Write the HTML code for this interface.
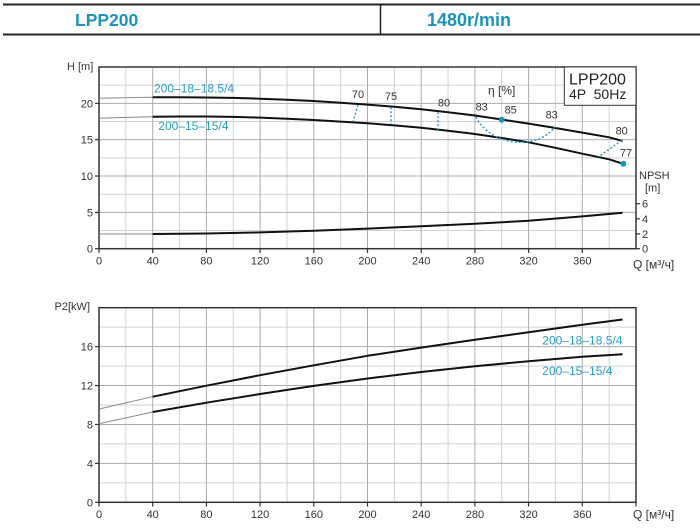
<!DOCTYPE html>
<html>
<head>
<meta charset="utf-8">
<style>
html,body{margin:0;padding:0;background:#fff;}
svg{display:block;}
text{font-family:"Liberation Sans",Arial,sans-serif;}
</style>
</head>
<body>
<svg width="700" height="530" viewBox="0 0 700 530" xmlns="http://www.w3.org/2000/svg">
<rect width="700" height="530" fill="#fff"/>
<!-- Header -->
<line x1="3" y1="4.5" x2="700" y2="4.5" stroke="#222" stroke-width="2"/>
<line x1="3" y1="34.5" x2="700" y2="34.5" stroke="#222" stroke-width="2"/>
<line x1="380.5" y1="4" x2="380.5" y2="35" stroke="#222" stroke-width="1.5"/>
<text x="75" y="26" font-size="17.5" font-weight="bold" fill="#1a94b8">LPP200</text>
<text x="427" y="26" font-size="18" font-weight="bold" fill="#1a94b8">1480r/min</text>

<!-- TOP CHART grid -->
<g stroke-width="1">
<g stroke="#d2d2d2">
<line x1="125.85" y1="67" x2="125.85" y2="248.7"/>
<line x1="179.55" y1="67" x2="179.55" y2="248.7"/>
<line x1="233.25" y1="67" x2="233.25" y2="248.7"/>
<line x1="286.95" y1="67" x2="286.95" y2="248.7"/>
<line x1="340.65" y1="67" x2="340.65" y2="248.7"/>
<line x1="394.35" y1="67" x2="394.35" y2="248.7"/>
<line x1="448.05" y1="67" x2="448.05" y2="248.7"/>
<line x1="501.75" y1="67" x2="501.75" y2="248.7"/>
<line x1="555.45" y1="67" x2="555.45" y2="248.7"/>
<line x1="609.15" y1="67" x2="609.15" y2="248.7"/>
<line x1="99" y1="230.53" x2="636" y2="230.53"/>
<line x1="99" y1="194.19" x2="636" y2="194.19"/>
<line x1="99" y1="157.85" x2="636" y2="157.85"/>
<line x1="99" y1="121.51" x2="636" y2="121.51"/>
<line x1="99" y1="85.17" x2="636" y2="85.17"/>
</g>
<g stroke="#ababab">
<line x1="152.7" y1="67" x2="152.7" y2="248.7"/>
<line x1="206.4" y1="67" x2="206.4" y2="248.7"/>
<line x1="260.1" y1="67" x2="260.1" y2="248.7"/>
<line x1="313.8" y1="67" x2="313.8" y2="248.7"/>
<line x1="367.5" y1="67" x2="367.5" y2="248.7"/>
<line x1="421.2" y1="67" x2="421.2" y2="248.7"/>
<line x1="474.9" y1="67" x2="474.9" y2="248.7"/>
<line x1="528.6" y1="67" x2="528.6" y2="248.7"/>
<line x1="582.3" y1="67" x2="582.3" y2="248.7"/>
<line x1="99" y1="212.36" x2="636" y2="212.36"/>
<line x1="99" y1="176.02" x2="636" y2="176.02"/>
<line x1="99" y1="139.68" x2="636" y2="139.68"/>
<line x1="99" y1="103.34" x2="636" y2="103.34"/>
</g>
</g>
<!-- top chart box -->
<rect x="99" y="67" width="537" height="181.7" fill="none" stroke="#333" stroke-width="1.5"/>
<!-- ticks -->
<g stroke="#333" stroke-width="1.2">
<line x1="95" y1="248.7" x2="99" y2="248.7"/>
<line x1="95" y1="212.36" x2="99" y2="212.36"/>
<line x1="95" y1="176.02" x2="99" y2="176.02"/>
<line x1="95" y1="139.68" x2="99" y2="139.68"/>
<line x1="95" y1="103.34" x2="99" y2="103.34"/>
<line x1="99" y1="248.7" x2="99" y2="253"/>
<line x1="152.7" y1="248.7" x2="152.7" y2="253"/>
<line x1="206.4" y1="248.7" x2="206.4" y2="253"/>
<line x1="260.1" y1="248.7" x2="260.1" y2="253"/>
<line x1="313.8" y1="248.7" x2="313.8" y2="253"/>
<line x1="367.5" y1="248.7" x2="367.5" y2="253"/>
<line x1="421.2" y1="248.7" x2="421.2" y2="253"/>
<line x1="474.9" y1="248.7" x2="474.9" y2="253"/>
<line x1="528.6" y1="248.7" x2="528.6" y2="253"/>
<line x1="582.3" y1="248.7" x2="582.3" y2="253"/>
<line x1="636" y1="248.7" x2="640" y2="248.7"/>
<line x1="636" y1="233.9" x2="640" y2="233.9"/>
<line x1="636" y1="218.8" x2="640" y2="218.8"/>
<line x1="636" y1="203.7" x2="640" y2="203.7"/>
</g>
<g font-size="11" fill="#333">
<g text-anchor="end">
<text x="93" y="252.7">0</text>
<text x="93" y="216.4">5</text>
<text x="93" y="180">10</text>
<text x="93" y="143.7">15</text>
<text x="93" y="107.3">20</text>
</g>
<g text-anchor="middle">
<text x="99" y="264.5">0</text>
<text x="152.7" y="264.5">40</text>
<text x="206.4" y="264.5">80</text>
<text x="260.1" y="264.5">120</text>
<text x="313.8" y="264.5">160</text>
<text x="367.5" y="264.5">200</text>
<text x="421.2" y="264.5">240</text>
<text x="474.9" y="264.5">280</text>
<text x="528.6" y="264.5">320</text>
<text x="582.3" y="264.5">360</text>
</g>
<text x="642" y="252.7">0</text>
<text x="642" y="237.9">2</text>
<text x="642" y="222.8">4</text>
<text x="642" y="207.7">6</text>
<text x="639" y="179">NPSH</text>
<text x="645" y="191.7">[m]</text>
<text x="67" y="70">H [m]</text>
</g>
<text x="633" y="268.5" font-size="12" fill="#333">Q [м³/ч]</text>

<!-- top chart curves: thin extensions -->
<g fill="none" stroke="#888" stroke-width="1">
<polyline points="99,98.3 125.85,97.7 152.7,97.3"/>
<polyline points="99,118.3 125.85,117.4 152.7,116.7"/>
<polyline points="99,234 152.7,234"/>
</g>
<g fill="none" stroke="#111" stroke-width="2" stroke-linejoin="round">
<polyline points="152.7,97.3 179.55,97.3 206.4,97.5 233.25,97.9 260.1,98.7 286.95,99.7 313.8,101 340.65,102.7 367.5,104.6 394.35,106.8 421.2,109.2 448.05,112.2 474.9,115.5 501.75,119.5 528.6,123.6 555.45,128 582.3,132.6 609.15,137.3 622.6,141"/>
<polyline points="152.7,116.7 179.55,116.5 206.4,116.5 233.25,116.9 260.1,117.6 286.95,118.7 313.8,120 340.65,121.6 367.5,123.3 394.35,125.4 421.2,127.7 448.05,130.7 474.9,134 501.75,138 528.6,142.3 555.45,147.8 582.3,153.7 609.15,159.3 622.6,163.7"/>
<polyline points="152.7,234 206.4,233.5 260.1,232.4 313.8,230.8 367.5,228.6 421.2,226.3 474.9,223.8 528.6,220.7 582.3,216.4 622.6,212.7"/>
</g>
<!-- efficiency dotted lines -->
<g fill="none" stroke="#2aa0c8" stroke-width="1.5" stroke-dasharray="2,2">
<line x1="358" y1="105" x2="353" y2="121.7"/>
<line x1="391" y1="107.3" x2="391" y2="124.3"/>
<line x1="438" y1="112.3" x2="438" y2="130"/>
<path d="M476,117 C490,145 535,152 555,127"/>
<line x1="621.7" y1="140.3" x2="598.3" y2="157"/>
</g>
<circle cx="501.7" cy="119.7" r="3" fill="#1a94b8"/>
<circle cx="623.3" cy="163.7" r="3" fill="#1a94b8"/>
<g font-size="11" fill="#333" text-anchor="middle">
<text x="358" y="98">70</text>
<text x="391" y="100">75</text>
<text x="444" y="106.7">80</text>
<text x="481.7" y="110.7">83</text>
<text x="510.7" y="113.7">85</text>
<text x="551.7" y="118.7">83</text>
<text x="621.7" y="134.3">80</text>
<text x="626" y="156.3">77</text>
</g>
<text x="488" y="94.7" font-size="12" fill="#333">η [%]</text>
<!-- legend box -->
<rect x="564.3" y="67" width="71.7" height="38.3" fill="#fff" stroke="#333" stroke-width="1"/>
<text x="569" y="84.7" font-size="16" fill="#222">LPP200</text>
<text x="569" y="99" font-size="14" fill="#222" xml:space="preserve">4P  50Hz</text>
<!-- series labels top -->
<g font-size="12" fill="#2a9cc4">
<text x="154" y="92.3">200–18–18.5/4</text>
<text x="158.3" y="130">200–15–15/4</text>
</g>

<!-- BOTTOM CHART grid -->
<g stroke-width="1">
<g stroke="#d2d2d2">
<line x1="125.85" y1="307.7" x2="125.85" y2="502.3"/>
<line x1="179.55" y1="307.7" x2="179.55" y2="502.3"/>
<line x1="233.25" y1="307.7" x2="233.25" y2="502.3"/>
<line x1="286.95" y1="307.7" x2="286.95" y2="502.3"/>
<line x1="340.65" y1="307.7" x2="340.65" y2="502.3"/>
<line x1="394.35" y1="307.7" x2="394.35" y2="502.3"/>
<line x1="448.05" y1="307.7" x2="448.05" y2="502.3"/>
<line x1="501.75" y1="307.7" x2="501.75" y2="502.3"/>
<line x1="555.45" y1="307.7" x2="555.45" y2="502.3"/>
<line x1="609.15" y1="307.7" x2="609.15" y2="502.3"/>
<line x1="99" y1="482.84" x2="636" y2="482.84"/>
<line x1="99" y1="443.92" x2="636" y2="443.92"/>
<line x1="99" y1="405" x2="636" y2="405"/>
<line x1="99" y1="366.08" x2="636" y2="366.08"/>
<line x1="99" y1="327.16" x2="636" y2="327.16"/>
</g>
<g stroke="#ababab">
<line x1="152.7" y1="307.7" x2="152.7" y2="502.3"/>
<line x1="206.4" y1="307.7" x2="206.4" y2="502.3"/>
<line x1="260.1" y1="307.7" x2="260.1" y2="502.3"/>
<line x1="313.8" y1="307.7" x2="313.8" y2="502.3"/>
<line x1="367.5" y1="307.7" x2="367.5" y2="502.3"/>
<line x1="421.2" y1="307.7" x2="421.2" y2="502.3"/>
<line x1="474.9" y1="307.7" x2="474.9" y2="502.3"/>
<line x1="528.6" y1="307.7" x2="528.6" y2="502.3"/>
<line x1="582.3" y1="307.7" x2="582.3" y2="502.3"/>
<line x1="99" y1="463.38" x2="636" y2="463.38"/>
<line x1="99" y1="424.46" x2="636" y2="424.46"/>
<line x1="99" y1="385.54" x2="636" y2="385.54"/>
<line x1="99" y1="346.62" x2="636" y2="346.62"/>
</g>
</g>
<rect x="99" y="307.7" width="537" height="194.6" fill="none" stroke="#333" stroke-width="1.5"/>
<g stroke="#333" stroke-width="1.2">
<line x1="95" y1="502.3" x2="99" y2="502.3"/>
<line x1="95" y1="463.38" x2="99" y2="463.38"/>
<line x1="95" y1="424.46" x2="99" y2="424.46"/>
<line x1="95" y1="385.54" x2="99" y2="385.54"/>
<line x1="95" y1="346.62" x2="99" y2="346.62"/>
<line x1="99" y1="502.3" x2="99" y2="506.5"/>
<line x1="152.7" y1="502.3" x2="152.7" y2="506.5"/>
<line x1="206.4" y1="502.3" x2="206.4" y2="506.5"/>
<line x1="260.1" y1="502.3" x2="260.1" y2="506.5"/>
<line x1="313.8" y1="502.3" x2="313.8" y2="506.5"/>
<line x1="367.5" y1="502.3" x2="367.5" y2="506.5"/>
<line x1="421.2" y1="502.3" x2="421.2" y2="506.5"/>
<line x1="474.9" y1="502.3" x2="474.9" y2="506.5"/>
<line x1="528.6" y1="502.3" x2="528.6" y2="506.5"/>
<line x1="582.3" y1="502.3" x2="582.3" y2="506.5"/>
<line x1="636" y1="502.3" x2="636" y2="506.5"/>
</g>
<g font-size="11" fill="#333">
<g text-anchor="end">
<text x="93" y="506.3">0</text>
<text x="93" y="467.4">4</text>
<text x="93" y="428.5">8</text>
<text x="93" y="389.5">12</text>
<text x="93" y="350.6">16</text>
<text x="90" y="310">P2[kW]</text>
</g>
<g text-anchor="middle">
<text x="99" y="518">0</text>
<text x="152.7" y="518">40</text>
<text x="206.4" y="518">80</text>
<text x="260.1" y="518">120</text>
<text x="313.8" y="518">160</text>
<text x="367.5" y="518">200</text>
<text x="421.2" y="518">240</text>
<text x="474.9" y="518">280</text>
<text x="528.6" y="518">320</text>
<text x="582.3" y="518">360</text>
</g>
</g>
<text x="633" y="518.5" font-size="12" fill="#333">Q [м³/ч]</text>
<g fill="none" stroke="#888" stroke-width="1">
<line x1="99" y1="409" x2="152.7" y2="396.7"/>
<line x1="99" y1="423.7" x2="152.7" y2="412"/>
</g>
<g fill="none" stroke="#111" stroke-width="2" stroke-linejoin="round">
<polyline points="152.7,396.7 206.4,385.7 260.1,375.2 313.8,365.3 367.5,355.8 421.2,347.6 474.9,339.8 528.6,332.2 582.3,324.7 622.6,319.5"/>
<polyline points="152.7,412 206.4,402.7 260.1,394 313.8,385.9 367.5,378.5 421.2,372 474.9,366.3 528.6,361.2 582.3,356.8 622.6,354.3"/>
</g>
<g font-size="12" fill="#2a9cc4">
<text x="542.3" y="344.3">200–18–18.5/4</text>
<text x="542.3" y="375">200–15–15/4</text>
</g>
</svg>
</body>
</html>
